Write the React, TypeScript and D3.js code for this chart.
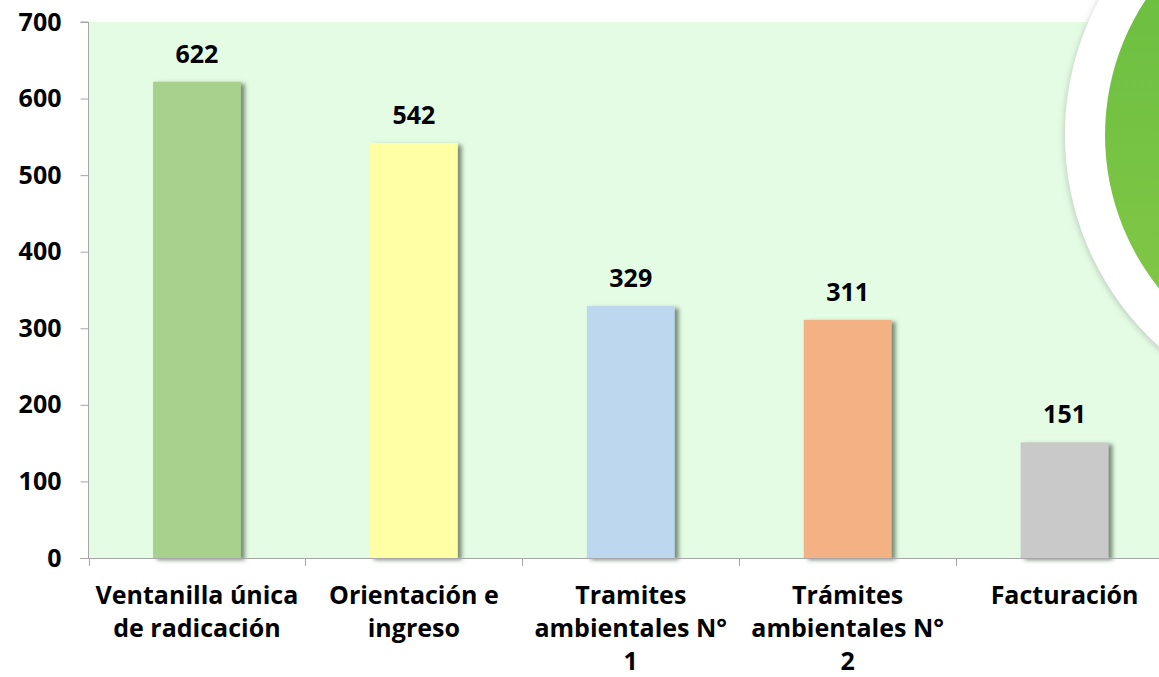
import React, { useRef, useEffect } from "react";
import * as d3 from "d3";

const categories = [
  "Ventanilla única\nde radicación",
  "Orientación e\ningreso",
  "Tramites\nambientales N°\n1",
  "Trámites\nambientales N°\n2",
  "Facturación",
];
const values = [622, 542, 329, 311, 151];
const barColors = ["#A9D18E", "#FFFFA6", "#BDD7EE", "#F4B183", "#C9C9C9"];
const yTicks = [0, 100, 200, 300, 400, 500, 600, 700];

const W = 1159;
const H = 677;
const FONT = "'Open Sans', 'Noto Sans', sans-serif";
const FS = "25px";

const App = () => {
  const ref = useRef<SVGSVGElement>(null);

  useEffect(() => {
    const svg = d3.select(ref.current);
    svg.selectAll("*").remove();
    svg.attr("width", W).attr("height", H);

    const left = 88.5;
    const right = 1173;
    const top = 22;
    const bottom = 558;

    const x = d3
      .scaleBand()
      .domain(categories)
      .range([left, right])
      .paddingInner(0.595)
      .paddingOuter(0.2975);
    const y = d3.scaleLinear().domain([0, 700]).range([bottom, top]);

    const defs = svg.append("defs");
    const f = defs.append("filter").attr("id", "barShadow").attr("x", "-20%").attr("y", "-10%").attr("width", "150%").attr("height", "130%");
    f.append("feDropShadow")
      .attr("dx", 4)
      .attr("dy", 2)
      .attr("stdDeviation", 2)
      .attr("flood-color", "#3f503f")
      .attr("flood-opacity", 0.65);

    const rf = defs.append("filter").attr("id", "ringShadow").attr("x", "-20%").attr("y", "-20%").attr("width", "140%").attr("height", "140%");
    rf.append("feDropShadow")
      .attr("dx", -1)
      .attr("dy", 2)
      .attr("stdDeviation", 3)
      .attr("flood-color", "#777")
      .attr("flood-opacity", 0.35);

    const grad = defs
      .append("linearGradient")
      .attr("id", "greenGrad")
      .attr("x1", 0)
      .attr("y1", 0)
      .attr("x2", 0)
      .attr("y2", 1);
    grad.append("stop").attr("offset", "0%").attr("stop-color", "#66BD3F");
    grad.append("stop").attr("offset", "100%").attr("stop-color", "#86C847");

    // plot background
    svg
      .append("rect")
      .attr("x", left)
      .attr("y", top)
      .attr("width", right - left)
      .attr("height", bottom - top)
      .attr("fill", "#E4FCE4");

    // bars
    svg
      .append("g")
      .selectAll("rect")
      .data(values)
      .enter()
      .append("rect")
      .attr("x", (d, i) => x(categories[i])!)
      .attr("y", (d) => y(d))
      .attr("width", x.bandwidth())
      .attr("height", (d) => y(0) - y(d))
      .attr("fill", (d, i) => barColors[i])
      .attr("filter", "url(#barShadow)");

    // value labels
    svg
      .append("g")
      .selectAll("text")
      .data(values)
      .enter()
      .append("text")
      .attr("x", (d, i) => x(categories[i])! + x.bandwidth() / 2)
      .attr("y", (d) => y(d) - 19)
      .attr("text-anchor", "middle")
      .style("font-family", FONT)
      .style("font-weight", 700)
      .style("font-size", FS)
      .text((d) => d);

    // y axis
    const yAxis = svg
      .append("g")
      .attr("transform", `translate(${left},0)`)
      .call(d3.axisLeft(y).tickValues(yTicks).tickSize(8).tickPadding(19));
    yAxis.select(".domain").attr("stroke", "#A6A6A6").attr("d", `M-8,${top}H0V${bottom}`);
    yAxis.selectAll(".tick line").attr("stroke", "#A6A6A6");
    yAxis
      .selectAll(".tick text")
      .style("font-family", FONT)
      .style("font-weight", 700)
      .style("font-size", FS)
      .attr("fill", "#000");

    // x axis
    const xg = svg.append("g");
    xg.append("line")
      .attr("x1", left - 8)
      .attr("x2", right)
      .attr("y1", bottom + 0.5)
      .attr("y2", bottom + 0.5)
      .attr("stroke", "#A6A6A6");
    const bounds = d3.range(categories.length + 1).map((i) => left + i * x.step());
    xg.selectAll("line.tick")
      .data(bounds)
      .enter()
      .append("line")
      .attr("class", "tick")
      .attr("x1", (d) => Math.round(d) + 0.5)
      .attr("x2", (d) => Math.round(d) + 0.5)
      .attr("y1", bottom)
      .attr("y2", bottom + 8)
      .attr("stroke", "#A6A6A6");

    const labels = xg
      .selectAll("text")
      .data(categories)
      .enter()
      .append("text")
      .attr("text-anchor", "middle")
      .style("font-family", FONT)
      .style("font-weight", 700)
      .style("font-size", FS);
    labels.each(function (d) {
      const t = d3.select(this);
      const cx = x(d)! + x.bandwidth() / 2;
      d.split("\n").forEach((line, j) => {
        t.append("tspan")
          .attr("x", cx)
          .attr("y", 604 + j * 33)
          .text(line);
      });
    });

    // decorative circle top-right
    svg
      .append("circle")
      .attr("cx", 1350)
      .attr("cy", 135)
      .attr("r", 285)
      .attr("fill", "#FFFFFF")
      .attr("filter", "url(#ringShadow)");
    svg
      .append("circle")
      .attr("cx", 1350)
      .attr("cy", 135)
      .attr("r", 245)
      .attr("fill", "url(#greenGrad)");
  }, []);

  return (
    <svg
      ref={ref}
      style={{ position: "absolute", left: 0, top: 0, display: "block", background: "#fff" }}
    ></svg>
  );
};

export default App;
